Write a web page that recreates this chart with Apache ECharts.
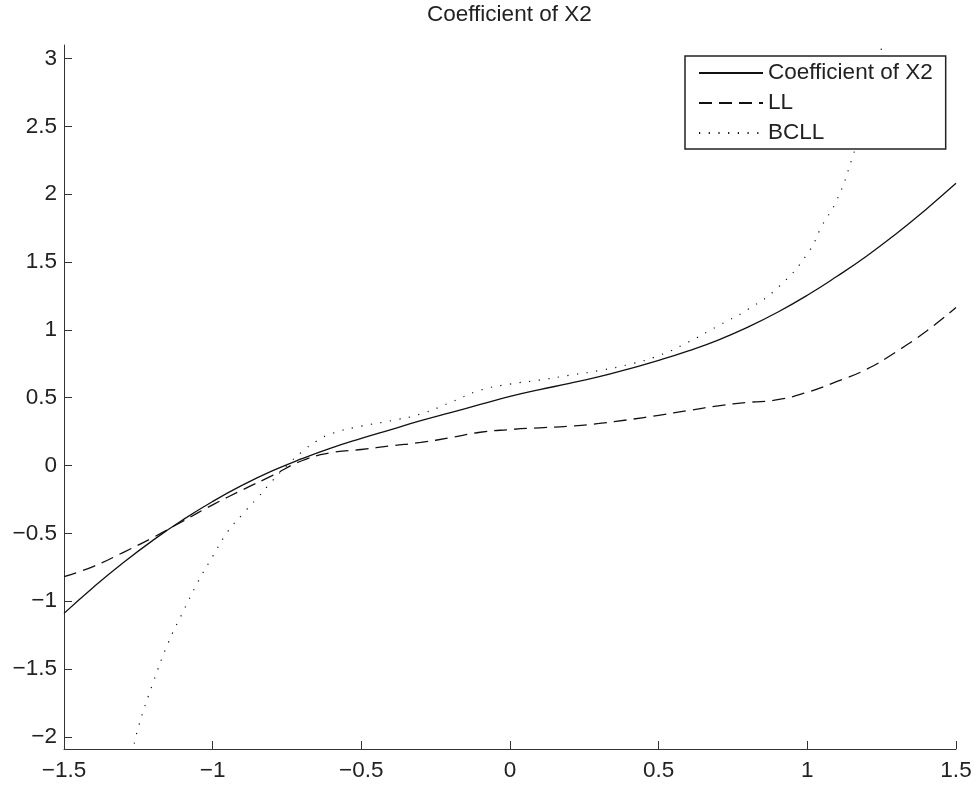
<!DOCTYPE html>
<html>
<head>
<meta charset="utf-8">
<script src="https://cdn.jsdelivr.net/npm/echarts@6/dist/echarts.min.js"></script>
<style>
html, body { margin: 0; padding: 0; background: #fff; }
#chart { width: 979px; height: 786px; }
</style>
</head>
<body>
<div id="chart"></div>
<script>
// values
let xs = [-1.5, -1.4, -1.3, -1.2, -1.1, -1.0, -0.9, -0.8, -0.7, -0.6, -0.5, -0.4, -0.3, -0.2, -0.1,
    0, 0.1, 0.2, 0.3, 0.4, 0.5, 0.6, 0.7, 0.8, 0.9, 1.0, 1.1, 1.2, 1.3, 1.4, 1.5]
let coef = [-1.09, -0.895, -0.715, -0.55, -0.40, -0.265, -0.145, -0.04, 0.05, 0.13, 0.20, 0.265, 0.33, 0.39, 0.45,
    0.51, 0.56, 0.605, 0.655, 0.713, 0.775, 0.845, 0.925, 1.02, 1.13, 1.255, 1.395, 1.545, 1.71, 1.89, 2.08]
let ll = [-0.82, -0.743, -0.64, -0.53, -0.41, -0.29, -0.18, -0.075, 0.035, 0.095, 0.118, 0.145, 0.17, 0.205, 0.245,
    0.265, 0.278, 0.29, 0.31, 0.338, 0.37, 0.405, 0.44, 0.465, 0.485, 0.54, 0.62, 0.71, 0.84, 0.99, 1.165]
let bcllX = [-1.27, -1.25, -1.2, -1.15, -1.1, -1.05, -1.0, -0.95, -0.9, -0.85, -0.8, -0.75, -0.7, -0.65, -0.6,
    -0.5, -0.4, -0.3, -0.2, -0.1, 0, 0.1, 0.2, 0.3, 0.4, 0.5, 0.6, 0.7, 0.8, 0.9, 1.0, 1.05, 1.1, 1.15, 1.2, 1.25, 1.27]
let bcllY = [-2.12, -1.93, -1.60, -1.31, -1.08, -0.86, -0.67, -0.49, -0.36, -0.24, -0.115, 0.0, 0.10, 0.18, 0.235,
    0.29, 0.33, 0.38, 0.465, 0.555, 0.60, 0.63, 0.665, 0.70, 0.745, 0.81, 0.91, 1.03, 1.15, 1.31, 1.56, 1.77, 1.96, 2.26, 2.63, 3.08, 3.25]
let yTicks = [-2, -1.5, -1, -0.5, 0, 0.5, 1, 1.5, 2, 2.5, 3]

let chart = echarts.init(document.querySelector("#chart"))
let font = "'Liberation Sans', Arial, Helvetica, sans-serif"
let minus = (v) => String(v).replace('-', '\u2212')
let pairs = (a, b) => a.map((v, i) => [v, b[i]])

let option = {
    animation: false,
    title: {
        text: 'Coefficient of X2',
        left: 427,
        top: 3,
        padding: 0,
        textStyle: { fontFamily: font, fontSize: 22.5, fontWeight: 'normal', color: '#222' }
    },
    legend: {
        orient: 'vertical',
        left: 685,
        top: 56,
        padding: [5, 13, 4, 13],
        itemGap: 6,
        itemWidth: 64,
        itemHeight: 14,
        backgroundColor: '#fff',
        borderColor: '#222',
        borderWidth: 1.5,
        borderRadius: 0,
        itemStyle: { opacity: 0 },
        textStyle: { fontFamily: font, fontSize: 22.5, color: '#222', lineHeight: 24 },
        data: ['Coefficient of X2', 'LL', 'BCLL']
    },
    grid: { left: 64, right: 23, top: 45, bottom: 37 },
    xAxis: {
        type: 'value',
        min: -1.5,
        max: 1.5,
        interval: 0.5,
        splitLine: { show: false },
        axisLine: { onZero: false, lineStyle: { color: '#333', width: 1 } },
        axisTick: { inside: true, length: 8, lineStyle: { color: '#333' } },
        axisLabel: { margin: 10, fontFamily: font, fontSize: 22.5, color: '#222', formatter: minus }
    },
    yAxis: {
        type: 'value',
        min: -2.09,
        max: 3.1,
        splitLine: { show: false },
        axisLine: { show: true, onZero: false, lineStyle: { color: '#333', width: 1 } },
        axisTick: { show: true, inside: true, length: 8, customValues: yTicks, lineStyle: { color: '#333' } },
        axisLabel: { margin: 7, fontFamily: font, fontSize: 22.5, color: '#222', customValues: yTicks, formatter: minus }
    },
    series: [
        {
            name: 'Coefficient of X2',
            type: 'line',
            showSymbol: false,
            symbol: 'none',
            smooth: 0.5,
            lineStyle: { color: '#111', width: 1.3, type: 'solid' },
            itemStyle: { color: '#111' },
            data: pairs(xs, coef)
        },
        {
            name: 'LL',
            type: 'line',
            showSymbol: false,
            symbol: 'none',
            smooth: 0.5,
            lineStyle: { color: '#111', width: 1.3, type: [13, 7] },
            itemStyle: { color: '#111' },
            data: pairs(xs, ll)
        },
        {
            name: 'BCLL',
            type: 'line',
            showSymbol: false,
            symbol: 'none',
            smooth: 0.5,
            lineStyle: { color: '#111', width: 1.2, type: [1.2, 8.5] },
            itemStyle: { color: '#111' },
            data: pairs(bcllX, bcllY)
        }
    ]
};
chart.setOption(option);

window.onresize = function () {
    chart.resize();
}
</script>
</body>
</html>
